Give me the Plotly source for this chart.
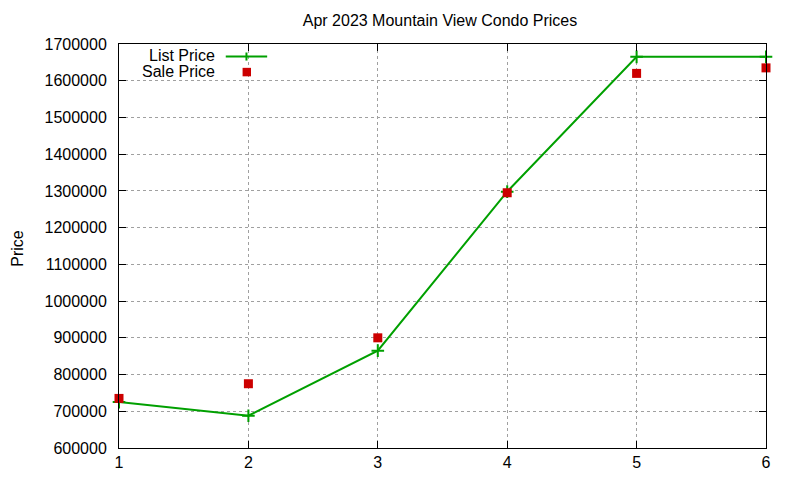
import plotly.graph_objects as go

# Data
listing_number = [1, 2, 3, 4, 5, 6]
list_price = [725000, 688000, 865000, 1298000, 1665000, 1665000]
sale_price = [735000, 775000, 900000, 1295000, 1620000, 1635000]

green = '#00a000'
red = '#cc0000'
font_name = 'Liberation Sans'

fig = go.Figure()

# List Price line with + markers
fig.add_trace(go.Scatter(
    x=listing_number,
    y=list_price,
    mode='lines+markers',
    name='List Price',
    line=dict(color=green, width=2),
    marker=dict(symbol='cross-thin', size=9, line=dict(color=green, width=2)),
    cliponaxis=False,
))

# Sale Price as square points
fig.add_trace(go.Scatter(
    x=listing_number,
    y=sale_price,
    mode='markers',
    name='Sale Price',
    marker=dict(symbol='square', size=9, color=red),
    cliponaxis=False,
))

# gnuplot style key, drawn by hand in the top left
fig.add_annotation(xref='paper', yref='paper', x=0.152, y=0.971, text='List Price',
                   showarrow=False, xanchor='right', yanchor='middle',
                   font=dict(family=font_name, size=16, color='black'))
fig.add_annotation(xref='paper', yref='paper', x=0.152, y=0.932, text='Sale Price',
                   showarrow=False, xanchor='right', yanchor='middle',
                   font=dict(family=font_name, size=16, color='black'))
fig.add_shape(type='line', xref='paper', yref='paper', x0=0.165, x1=0.229, y0=0.969, y1=0.969,
              line=dict(color=green, width=2))
fig.add_shape(type='line', xref='paper', yref='paper', x0=0.197, x1=0.197, y0=0.959, y1=0.979,
              line=dict(color=green, width=2))
fig.add_shape(type='rect', xref='paper', yref='paper', x0=0.191, x1=0.204, y0=0.920, y1=0.941,
              fillcolor=red, line=dict(width=0))

# y axis title as a rotated annotation
fig.add_annotation(xref='paper', yref='paper', x=-0.158, y=0.495, text='Price',
                   textangle=-90, showarrow=False, xanchor='center', yanchor='middle',
                   font=dict(family=font_name, size=16, color='black'))

# the page adds an 8px body margin, so margins are shifted to compensate
fig.update_layout(
    width=800,
    height=480,
    margin=dict(l=111, r=42, t=36, b=40),
    paper_bgcolor='white',
    plot_bgcolor='white',
    showlegend=False,
    font=dict(family=font_name, size=16, color='black'),
    title=dict(text='Apr 2023 Mountain View Condo Prices', x=0.54, xanchor='center',
               y=0.975, yanchor='middle', font=dict(size=16)),
)

fig.update_xaxes(
    range=[1, 6], dtick=1, tick0=1,
    showline=True, linecolor='black', linewidth=1, mirror='allticks',
    ticks='inside', ticklen=7, tickcolor='black',
    showgrid=True, gridcolor='#a0a0a0', griddash='dot', gridwidth=1,
    zeroline=False,
)
fig.update_yaxes(
    range=[600000, 1700000], dtick=100000, tickformat='d',
    showline=True, linecolor='black', linewidth=1, mirror='allticks',
    ticks='inside', ticklen=7, tickcolor='black', ticklabelstandoff=8,
    showgrid=True, gridcolor='#a0a0a0', griddash='dot', gridwidth=1,
    zeroline=False,
)

fig.write_html("out.html")
